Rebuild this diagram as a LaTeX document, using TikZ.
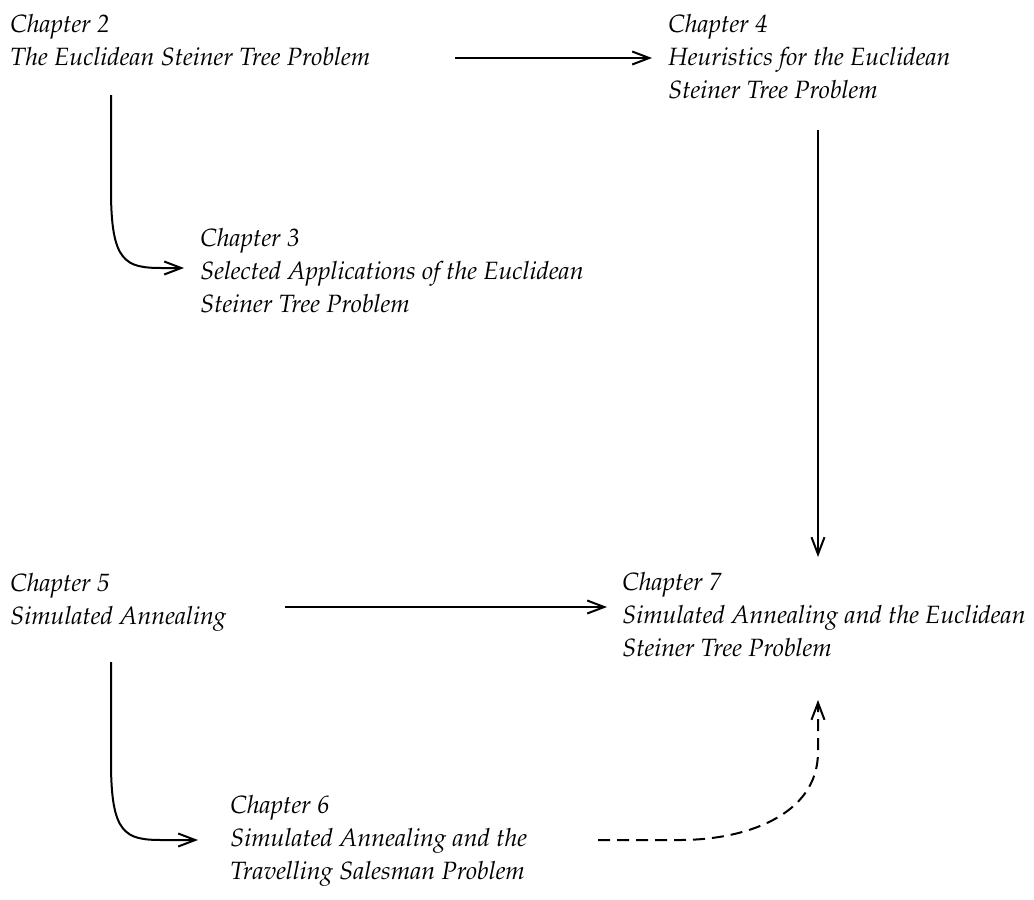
\documentclass[tikz,border=0pt]{standalone}
\usepackage[T1]{fontenc}
\usepackage{mathpazo}
\usetikzlibrary{arrows.meta}
\tikzset{
	chap/.style={anchor=north west, inner sep=0pt, align=left,
		font=\fontsize{12.5}{16.5}\selectfont\itshape},
	link/.style={->, line width=1pt},
	>={Straight Barb[length=8.5pt,width=6.5pt]}
}
\begin{document}
\begin{tikzpicture}[x=0.5pt, y=-0.5pt]
	\useasboundingbox (0,0) rectangle (1034,900);
	
	%chapters
	\node[chap] (ch2) at (10,14) {Chapter 2\\The Euclidean Steiner Tree Problem};
	\node[chap] (ch4) at (668,14) {Chapter 4\\Heuristics for the Euclidean\\Steiner Tree Problem};
	\node[chap] (ch3) at (200,228) {Chapter 3\\Selected Applications of the Euclidean\\Steiner Tree Problem};
	\node[chap] (ch5) at (10,573) {Chapter 5\\Simulated Annealing};
	\node[chap] (ch7) at (622,572) {Chapter 7\\Simulated Annealing and the Euclidean\\Steiner Tree Problem};
	\node[chap] (ch6) at (230,795) {Chapter 6\\Simulated Annealing and the\\Travelling Salesman Problem};
	
	%ends of the connectors
	\coordinate (ch2out) at (455,58);
	\coordinate (ch4in) at (652,58);
	\coordinate (ch2down) at (111,95);
	\coordinate (ch3in) at (184,268);
	\coordinate (ch4down) at (818,130);
	\coordinate (ch7top) at (818,557);
	\coordinate (ch5out) at (285,607);
	\coordinate (ch7left) at (607,607);
	\coordinate (ch5down) at (111,662);
	\coordinate (ch6in) at (198,840);
	\coordinate (ch6out) at (598,840);
	\coordinate (ch7bot) at (818,700);
	
	\draw[link] (ch2out) -- (ch4in);
	\draw[link] (ch2down) -- (111,190) .. controls (111,262) and (125,268) .. (162,268) -- (ch3in);
	\draw[link] (ch4down) -- (ch7top);
	\draw[link] (ch5out) -- (ch7left);
	\draw[link] (ch5down) -- (111,762) .. controls (111,834) and (125,840) .. (162,840) -- (ch6in);
	\draw[link, dash pattern=on 6pt off 3.5pt] (ch6out) -- (680,840)
		to[out=0, in=-90] (818,752) -- (ch7bot);
\end{tikzpicture}
\end{document}
